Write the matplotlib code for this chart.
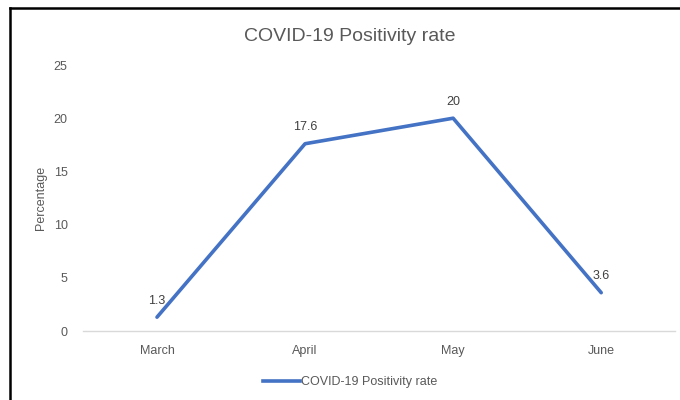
import matplotlib
matplotlib.use('Agg')
from matplotlib import pyplot as plt
from matplotlib.lines import Line2D

months = ['March', 'April', 'May', 'June']
positivity = [1.3, 17.6, 20, 3.6]
y_ticks = [0, 5, 10, 15, 20, 25]

plt.rcParams['font.family'] = ['Liberation Sans', 'DejaVu Sans']
grey = '#595959'
blue = '#4472C4'

fig = plt.figure(figsize=(6.8, 4.0), dpi=100)
ax = fig.add_axes([0.122, 0.1725, 0.871, 0.665])

x = list(range(len(months)))
ax.plot(x, positivity, color=blue, linewidth=2.6, solid_capstyle='round',
        label='COVID-19 Positivity rate')

# data labels above each point
for xi, v in zip(x, positivity):
    ax.annotate(f'{v:g}', (xi, v), xytext=(0, 7.5), textcoords='offset points',
                ha='center', va='bottom', fontsize=9, color='#404040')

ax.set_xlim(-0.5, len(months) - 0.5)
ax.set_ylim(0, 25)
ax.set_yticks(y_ticks)
ax.set_xticks(x)
ax.set_xticklabels(months)
ax.tick_params(axis='both', length=0, labelsize=9, colors=grey)
ax.tick_params(axis='x', pad=10)
ax.tick_params(axis='y', pad=11)

for s in ['top', 'right', 'left']:
    ax.spines[s].set_visible(False)
ax.spines['bottom'].set_color('#d9d9d9')
ax.spines['bottom'].set_linewidth(1)

ax.set_ylabel('Percentage', fontsize=9, color=grey)
ax.yaxis.set_label_coords(-0.061, 0.5)

fig.text(0.515, 0.908, 'COVID-19 Positivity rate', ha='center', va='center',
         fontsize=14, color=grey)

fig.legend(handles=[Line2D([0], [0], color=blue, linewidth=2.6)],
           labels=['COVID-19 Positivity rate'], loc='center',
           bbox_to_anchor=(0.515, 0.045), frameon=False, fontsize=9,
           handlelength=3.0, handletextpad=0.1, labelcolor=grey)

# chart border (left and top edges visible)
fig.add_artist(Line2D([0.015, 0.015], [0, 0.98], color='black', linewidth=1.8,
                      transform=fig.transFigure))
fig.add_artist(Line2D([0.015, 1.0], [0.98, 0.98], color='black', linewidth=1.8,
                      transform=fig.transFigure))

fig.savefig('out.png', dpi=100)
